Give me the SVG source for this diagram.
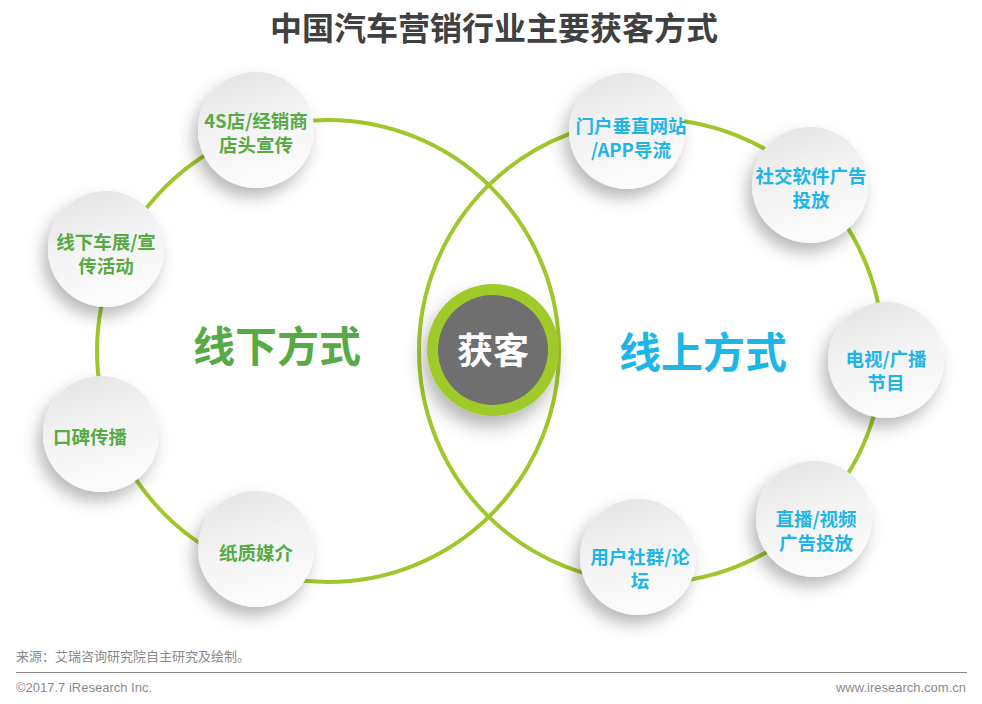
<svg xmlns="http://www.w3.org/2000/svg" width="982" height="704" viewBox="0 0 982 704">
<defs>
<linearGradient id="nodeFill" x1="0" y1="0" x2="0.3" y2="1">
<stop offset="0" stop-color="#e2e2e2"/>
<stop offset="0.5" stop-color="#f2f2f2"/>
<stop offset="1" stop-color="#fbfbfb"/>
</linearGradient>
<filter id="shadow" x="-50%" y="-50%" width="200%" height="200%">
<feDropShadow dx="-5" dy="9" stdDeviation="8" flood-color="#000" flood-opacity="0.28"/>
</filter>
<filter id="shadowC" x="-50%" y="-50%" width="200%" height="200%">
<feDropShadow dx="-4" dy="10" stdDeviation="9" flood-color="#000" flood-opacity="0.3"/>
</filter>
</defs>
<style>
.ring{fill:none;stroke:#9fc72b;stroke-width:4}
.node{fill:url(#nodeFill);filter:url(#shadow)}
.t{font-family:"Noto Sans CJK SC","Liberation Sans",sans-serif;font-weight:700;text-anchor:middle}
.g{fill:#57aa46;font-size:18.5px}
.b{fill:#1db6e6;font-size:18.5px}
.foot{font-family:"Liberation Sans","Noto Sans CJK SC",sans-serif;fill:#8a8a8a;font-size:13px}
</style>
<rect width="982" height="704" fill="#fff"/>
<text class="t" x="494" y="40" font-size="32" fill="#404040">中国汽车营销行业主要获客方式</text>

<g id="connectors">
<circle class="ring" cx="328" cy="351" r="231"/>
<circle class="ring" cx="651" cy="351" r="232"/>
</g>

<text class="t" x="277" y="362" font-size="42" fill="#57aa46">线下方式</text>
<text class="t" x="703" y="368" font-size="42" fill="#1db6e6">线上方式</text>

<g id="n1"><circle class="node" cx="256" cy="130" r="58"/>
<text class="t g" x="256" y="128">4S店/经销商</text><text class="t g" x="256" y="152">店头宣传</text></g>
<g id="n2"><circle class="node" cx="106" cy="249" r="58"/>
<text class="t g" x="106" y="249">线下车展/宣</text><text class="t g" x="106" y="273">传活动</text></g>
<g id="n3"><circle class="node" cx="101" cy="434" r="58"/>
<text class="t g" x="90" y="444">口碑传播</text></g>
<g id="n4"><circle class="node" cx="256" cy="549" r="58"/>
<text class="t g" x="256" y="560">纸质媒介</text></g>

<g id="n5"><circle class="node" cx="627" cy="131" r="58"/>
<text class="t b" x="631" y="133">门户垂直网站</text><text class="t b" x="631" y="157">/APP导流</text></g>
<g id="n6"><circle class="node" cx="810" cy="185" r="58"/>
<text class="t b" x="811" y="183">社交软件广告</text><text class="t b" x="811" y="207">投放</text></g>
<g id="n7"><circle class="node" cx="886" cy="360" r="58"/>
<text class="t b" x="886" y="366">电视/广播</text><text class="t b" x="886" y="390">节目</text></g>
<g id="n8"><circle class="node" cx="814" cy="519" r="58"/>
<text class="t b" x="816" y="526">直播/视频</text><text class="t b" x="816" y="550">广告投放</text></g>
<g id="n9"><circle class="node" cx="638" cy="557" r="58"/>
<text class="t b" x="640" y="564">用户社群/论</text><text class="t b" x="640" y="588">坛</text></g>

<g id="center">
<circle cx="493" cy="350" r="66" fill="#a0c92c" filter="url(#shadowC)"/>
<circle cx="493" cy="350" r="55" fill="#6f6f6f"/>
<text class="t" x="493" y="364" font-size="36" fill="#ffffff">获客</text>
</g>

<text class="foot" x="16" y="661">来源：艾瑞咨询研究院自主研究及绘制。</text>
<line x1="16" y1="672.5" x2="967" y2="672.5" stroke="#8a8a8a" stroke-width="1"/>
<text class="foot" x="16" y="692">©2017.7 iResearch Inc.</text>
<text class="foot" x="966" y="692" text-anchor="end">www.iresearch.com.cn</text>
</svg>
